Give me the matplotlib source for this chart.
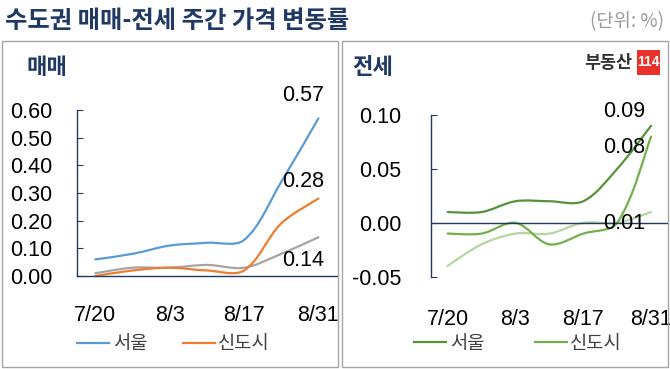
import numpy as np
import matplotlib
matplotlib.use("Agg")
import matplotlib.pyplot as plt
from matplotlib.path import Path
from matplotlib.patches import PathPatch, Rectangle
from matplotlib.lines import Line2D

plt.rcParams["font.family"] = ["Noto Sans CJK KR", "DejaVu Sans"]

# weekly dates (only every other one is labelled)
weeks = ["7/20", "7/27", "8/3", "8/10", "8/17", "8/24", "8/31"]
tick_weeks = ["7/20", "8/3", "8/17", "8/31"]

# 매매 (sale) weekly change, %
sale_seoul = [0.06, 0.08, 0.11, 0.12, 0.13, 0.34, 0.57]
sale_newtown = [0.00, 0.02, 0.03, 0.02, 0.02, 0.19, 0.28]
sale_gyeonggi = [0.01, 0.03, 0.03, 0.04, 0.03, 0.08, 0.14]

# 전세 (jeonse) weekly change, %
jeonse_seoul = [0.01, 0.01, 0.02, 0.02, 0.02, 0.05, 0.09]
jeonse_newtown = [-0.01, -0.01, 0.00, -0.02, -0.01, 0.00, 0.08]
jeonse_gyeonggi = [-0.04, -0.02, -0.01, -0.01, 0.00, 0.00, 0.01]

W, H = 670, 369
NAVY = "#1f3864"
NUM_FONT = "Liberation Sans"


def fx(px):
    return px / W


def fy(py):
    return 1 - py / H


def smooth_path(ax, xs, ys):
    """Excel-like smoothed line: cubic Beziers whose handle lengths follow
    the on-screen chord lengths (keeps short flat segments from overshooting)."""
    pts = np.column_stack([xs, ys]).astype(float)
    disp = ax.transData.transform(pts)
    n = len(pts)
    chord = np.linalg.norm(np.diff(disp, axis=0), axis=1)
    verts = [pts[0]]
    codes = [Path.MOVETO]
    for i in range(n - 1):
        p1, p2 = pts[i], pts[i + 1]
        # tangent at p1
        t1 = pts[min(i + 1, n - 1)] - pts[max(i - 1, 0)]
        d_prev = chord[i - 1] if i > 0 else chord[i]
        w1 = chord[i] / (d_prev + chord[i]) if i > 0 else 0.5
        # tangent at p2
        t2 = pts[min(i + 2, n - 1)] - pts[i]
        d_next = chord[i + 1] if i + 1 < n - 1 else chord[i]
        w2 = chord[i] / (chord[i] + d_next) if i + 1 < n - 1 else 0.5
        verts += [p1 + t1 * w1 / 3.0, p2 - t2 * w2 / 3.0, p2]
        codes += [Path.CURVE4] * 3
    return Path(verts, codes)


def draw_series(ax, values, color, lw=1.6):
    x = np.arange(len(values))
    ax.add_patch(PathPatch(smooth_path(ax, x, values), fill=False,
                           edgecolor=color, lw=lw, capstyle="round",
                           joinstyle="round"))


def style_axes(ax, ylim, yticks, ylabels, xpad, ypad):
    ax.set_xlim(-0.5, 6.5)
    ax.set_ylim(*ylim)
    ax.set_facecolor("none")
    for s in ("top", "right"):
        ax.spines[s].set_visible(False)
    ax.spines["left"].set_color(NAVY)
    ax.spines["bottom"].set_color(NAVY)
    ax.spines["left"].set_linewidth(1.0)
    ax.spines["bottom"].set_linewidth(1.0)
    ax.set_yticks(yticks)
    ax.set_yticklabels(ylabels, fontfamily=NUM_FONT, fontsize=15.5)
    ax.tick_params(axis="y", direction="in", length=4, color=NAVY, pad=ypad)
    ax.set_xticks([weeks.index(w) for w in tick_weeks])
    ax.set_xticklabels(tick_weeks, fontfamily=NUM_FONT, fontsize=15.5)
    ax.tick_params(axis="x", length=0, pad=xpad)


def label(ax, value, text, dx, dy):
    ax.annotate(text, (6, value), xytext=(dx, dy), textcoords="offset pixels",
                ha="center", va="center", fontfamily=NUM_FONT, fontsize=15.5,
                annotation_clip=False)


fig = plt.figure(figsize=(W / 100, H / 100), dpi=100)

# title and unit
fig.text(fx(5), fy(21), "수도권 매매-전세 주간 가격 변동률", fontsize=17.5,
         fontweight="bold", color=NAVY, va="center", ha="left")
fig.text(fx(664), fy(22), "(단위: %)", fontsize=13.5, color="#9a9a9a",
         va="center", ha="right")

# panel frames
for x0, x1 in ((2, 338), (342, 668)):
    fig.add_artist(Rectangle((fx(x0), fy(367)), fx(x1 - x0), (367 - 41) / H,
                             transform=fig.transFigure, fill=False,
                             edgecolor="#a6a6a6", lw=1.0))

fig.text(fx(27), fy(67), "매매", fontsize=16, fontweight="bold", color=NAVY,
         va="center", ha="left")
fig.text(fx(352), fy(67), "전세", fontsize=16, fontweight="bold", color=NAVY,
         va="center", ha="left")

# 부동산114 logo
fig.text(fx(632), fy(63), "부동산", fontsize=12.5, fontweight="bold",
         color="#333333", va="center", ha="right")
fig.add_artist(Rectangle((fx(637), fy(75)), fx(23), 25 / H,
                         transform=fig.transFigure, color="#e8322b", lw=0))
fig.text(fx(648.5), fy(62.5), "114", fontsize=10, fontweight="bold",
         color="white", va="center", ha="center", fontfamily=NUM_FONT)

# ---- 매매 ----
ax1 = fig.add_axes([fx(76.7), fy(276), fx(337 - 76.7), (276 - 110) / H])
style_axes(ax1, (0, 0.6), np.arange(0, 0.61, 0.1),
           [f"{v:.2f}" for v in np.arange(0, 0.61, 0.1)], xpad=21, ypad=17.5)
draw_series(ax1, sale_gyeonggi, "#a5a5a5")
draw_series(ax1, sale_newtown, "#ed7d31")
draw_series(ax1, sale_seoul, "#5b9bd5")
label(ax1, sale_seoul[-1], f"{sale_seoul[-1]:.2f}", -15, 23)
label(ax1, sale_newtown[-1], f"{sale_newtown[-1]:.2f}", -15, 17)
label(ax1, sale_gyeonggi[-1], f"{sale_gyeonggi[-1]:.2f}", -15, -23)
ax1.legend(handles=[Line2D([], [], color="#5b9bd5", lw=1.6),
                    Line2D([], [], color="#ed7d31", lw=1.6)],
           labels=["서울", "신도시"], loc="center left",
           bbox_to_anchor=(fx(77), fy(344)), bbox_transform=fig.transFigure,
           ncol=2, frameon=False, fontsize=13.5, handlelength=1.7,
           handletextpad=0.2, columnspacing=1.9, borderpad=0,
           borderaxespad=0, labelcolor="#404040")

# ---- 전세 ----
ax2 = fig.add_axes([fx(430.7), fy(276.7), fx(668 - 430.7), (276.7 - 115) / H])
style_axes(ax2, (-0.05, 0.10), [-0.05, 0.0, 0.05, 0.10],
           ["-0.05", "0.00", "0.05", "0.10"], xpad=23, ypad=21)
ax2.spines["bottom"].set_visible(False)
ax2.axhline(0, color=NAVY, lw=1.0)
draw_series(ax2, jeonse_gyeonggi, "#b5d6a0")
draw_series(ax2, jeonse_newtown, "#72b04c")
draw_series(ax2, jeonse_seoul, "#56923a")
label(ax2, jeonse_seoul[-1], f"{jeonse_seoul[-1]:.2f}", -27, 14)
label(ax2, jeonse_newtown[-1], f"{jeonse_newtown[-1]:.2f}", -27, -11)
label(ax2, jeonse_gyeonggi[-1], f"{jeonse_gyeonggi[-1]:.2f}", -27, -11)
ax2.legend(handles=[Line2D([], [], color="#56923a", lw=1.6),
                    Line2D([], [], color="#72b04c", lw=1.6)],
           labels=["서울", "신도시"], loc="center left",
           bbox_to_anchor=(fx(414), fy(343)), bbox_transform=fig.transFigure,
           ncol=2, frameon=False, fontsize=13.5, handlelength=1.7,
           handletextpad=0.2, columnspacing=2.7, borderpad=0,
           borderaxespad=0, labelcolor="#404040")

fig.savefig("out.png", dpi=100)
